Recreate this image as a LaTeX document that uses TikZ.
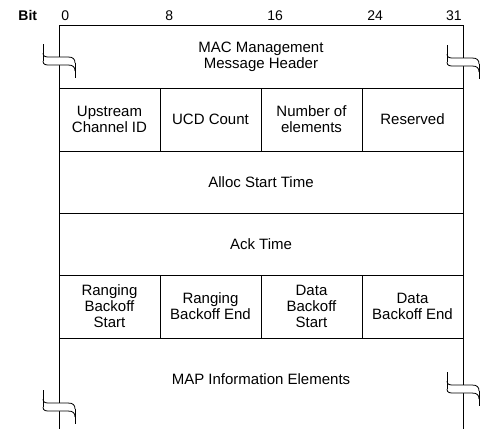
\documentclass[tikz,border=0pt]{standalone}
\usepackage{fontspec}
\setmainfont{Liberation Sans}
\usepackage{tikz}
\usetikzlibrary{positioning,calc}

\newcommand{\fieldfont}{\fontsize{15}{16}\selectfont}

\begin{document}
\begin{tikzpicture}[x=1pt, y=1pt, line width=0.8pt]
        % Style definitions
        \tikzset{
            field/.style={draw, rectangle, minimum width=101pt, minimum height=63pt, inner sep=0pt, outer sep=0pt, align=center, font=\fieldfont},
            widefield/.style={field, minimum width=404pt},
            bitlbl/.style={anchor=base west, inner sep=0pt, font=\fontsize{14}{16}\selectfont},
            brkmark/.pic={
                \fill [white] (-16,7) .. controls (-16,3) and (-13,3) .. (-9,3) -- (9,3) .. controls (14,3) and (16,1) .. (16,-3)
                    -- (16,-11) .. controls (16,-7) and (14,-5) .. (9,-5) -- (-9,-5) .. controls (-13,-5) and (-16,-5) .. (-16,-1) -- cycle;
                \draw (-16,16) -- (-16,-1);
                \draw (-16,7) .. controls (-16,3) and (-13,3) .. (-9,3) -- (9,3) .. controls (14,3) and (16,1) .. (16,-3);
                \draw (-16,-1) .. controls (-16,-5) and (-13,-5) .. (-9,-5) -- (9,-5) .. controls (14,-5) and (16,-7) .. (16,-11);
                \draw (16,-3) -- (16,-18);
            }
        }
        \useasboundingbox (0,0) rectangle (481,-429);

        % Nodes
        \node [widefield] (hdr) at (261,-56.5) {MAC Management\\Message Header};
        \node [field, anchor=north west] (upch) at (hdr.south west) {Upstream\\Channel ID};
        \node [field, right=0pt of upch] (ucd) {UCD Count};
        \node [field, right=0pt of ucd] (nelem) {Number of\\elements};
        \node [field, right=0pt of nelem] (resvd) {Reserved};
        \node [widefield, minimum height=62pt, anchor=north west] (alloc) at (upch.south west) {Alloc Start Time};
        \node [widefield, minimum height=62pt, below=0pt of alloc] (ack) {Ack Time};
        \node [field, anchor=north west] (rbs) at (ack.south west) {Ranging\\Backoff\\Start};
        \node [field, right=0pt of rbs] (rbe) {Ranging\\Backoff End};
        \node [field, right=0pt of rbe] (dbs) {Data\\Backoff\\Start};
        \node [field, right=0pt of dbs] (dbe) {Data\\Backoff End};
        \node [widefield, draw=none, minimum height=82pt, anchor=north west] (mapie) at (rbs.south west) {MAP Information Elements};

        % Open bottom row
        \draw (mapie.north west) -- ++(0,-91);
        \draw (mapie.north east) -- ++(0,-91);

        % Bit numbers
        \node [bitlbl, font=\fontsize{14}{16}\selectfont\bfseries] (bitlab) at ([shift={(-41,5)}]hdr.north west) {Bit};
        \node [bitlbl] (b0) at ([shift={(2,5)}]hdr.north west) {0};
        \node [bitlbl] (b8) at ($(hdr.north -| ucd.west)+(5,5)$) {8};
        \node [bitlbl] (b16) at ($(hdr.north -| nelem.west)+(6,5)$) {16};
        \node [bitlbl] (b24) at ($(hdr.north -| resvd.west)+(5,5)$) {24};
        \node [bitlbl, anchor=base east] (b31) at ([shift={(-1,5)}]hdr.north east) {31};

        % Break marks
        \pic at ([yshift=-3.5pt]hdr.west) {brkmark};
        \pic at ([yshift=-4.5pt]hdr.east) {brkmark};
        \pic at ([yshift=-27pt]mapie.west) {brkmark};
        \pic at ([yshift=-9pt]mapie.east) {brkmark};
    \end{tikzpicture}
\end{document}
